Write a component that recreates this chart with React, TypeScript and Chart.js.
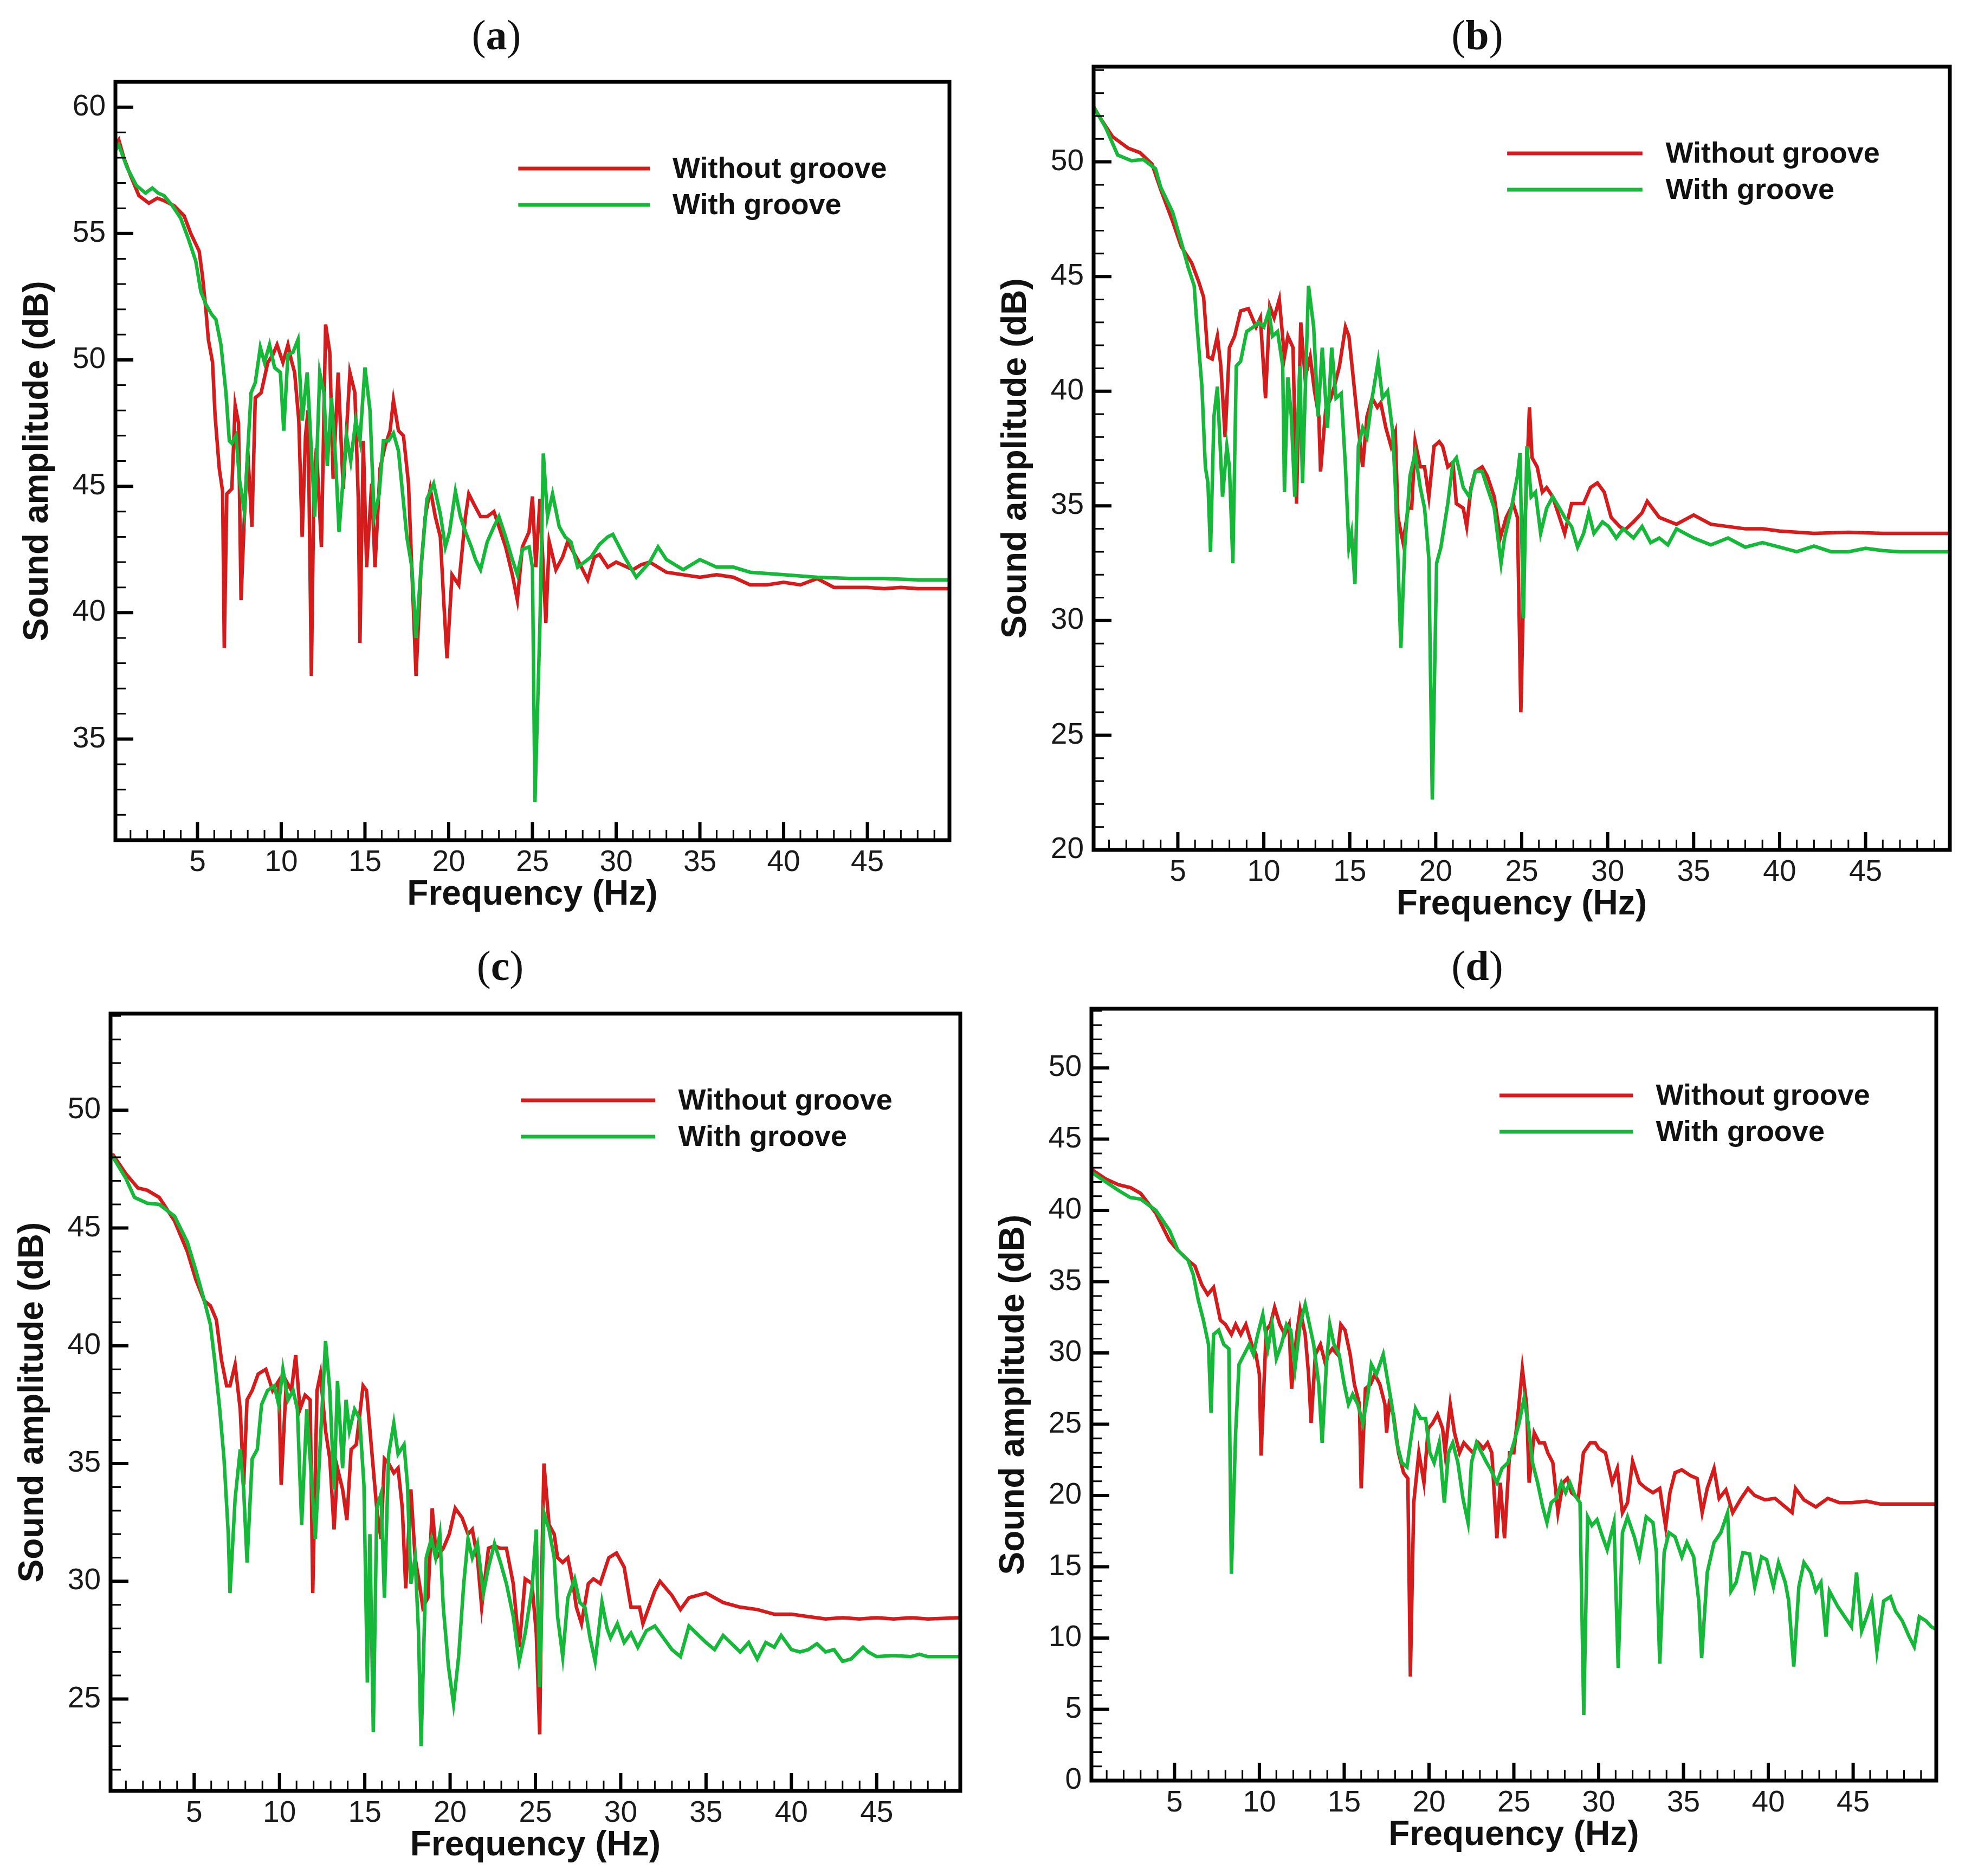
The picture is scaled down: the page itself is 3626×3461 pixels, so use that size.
import { useEffect, useRef } from "react";
import Chart from "chart.js/auto";

Chart.defaults.font.family = '"Liberation Sans", Arial, sans-serif';

const LEGEND_LABELS = ["Without groove", "With groove"];
const RED = "#d41c1c";
const GREEN = "#16b83a";
const X_TICKS = [5, 10, 15, 20, 25, 30, 35, 40, 45];

// (a)
const A_Y_TICKS = [35, 40, 45, 50, 55, 60];
const A_RED_F = [0.1,0.3,0.6,1.0,1.5,2.1,2.6,3.0,3.6,4.2,4.6,5.1,5.3,5.5,5.65,5.9,6.05,6.3,6.5,6.6,6.75,7.05,7.25,7.45,7.6,7.8,8.0,8.25,8.45,8.8,9.2,9.5,9.75,10.1,10.4,10.6,10.8,11.05,11.25,11.45,11.6,11.8,11.95,12.1,12.4,12.65,12.9,13.1,13.4,13.7,14.1,14.4,14.6,14.7,14.9,15.1,15.4,15.6,15.9,16.2,16.5,16.7,17.0,17.3,17.6,17.8,18.05,18.35,18.6,18.9,19.2,19.5,19.7,19.9,20.2,20.6,21.0,21.2,21.5,21.9,22.3,22.7,23.0,23.4,23.8,24.1,24.4,24.8,25.0,25.2,25.45,25.8,26.0,26.4,26.8,27.1,27.7,28.3,28.7,29.0,29.5,30.0,31.0,31.5,32.0,33.0,34.0,35.0,36.0,37.0,38.0,39.0,40.0,41.0,42.0,43.0,44.0,45.0,46.0,47.0,48.0,49.9];
const A_RED_DB = [58.5,58.7,58.0,57.3,56.5,56.2,56.4,56.3,56.1,55.7,55.0,54.3,53.3,52.0,50.8,49.9,47.8,45.7,44.8,38.6,44.7,44.9,48.2,47.5,40.5,43.8,46.4,43.4,48.5,48.7,49.9,50.2,50.6,49.9,50.6,50.0,49.5,47.6,43.0,47.0,48.0,37.5,45.0,46.5,42.6,51.4,50.3,45.3,49.5,44.9,49.5,48.7,44.5,38.8,46.8,41.8,45.1,41.8,45.7,46.6,47.2,48.4,47.2,47.0,45.1,41.7,37.5,41.8,43.8,44.9,43.8,43.0,40.5,38.2,41.5,41.1,43.8,44.7,44.3,43.8,43.8,44.0,43.4,42.6,41.5,40.5,42.6,43.2,44.6,41.8,44.5,39.6,42.8,41.7,42.2,42.8,42.1,41.3,42.2,42.3,41.8,42.0,41.7,41.9,42.0,41.6,41.5,41.4,41.5,41.4,41.1,41.1,41.2,41.1,41.35,41.0,41.0,41.0,40.95,41.0,40.95,40.95];
const A_GREEN_F = [0.1,0.3,0.8,1.35,1.9,2.3,2.65,3.0,3.5,4.0,4.45,4.9,5.2,5.5,5.85,6.1,6.4,6.7,6.9,7.05,7.3,7.5,7.8,8.0,8.2,8.45,8.75,9.0,9.3,9.6,9.95,10.15,10.4,10.7,11.0,11.25,11.55,11.8,12.0,12.3,12.55,12.75,13.0,13.25,13.45,13.9,14.15,14.45,14.7,15.0,15.3,15.55,15.85,16.1,16.4,16.7,17.0,17.25,17.5,17.8,18.05,18.35,18.7,19.1,19.5,19.8,20.05,20.4,20.7,21.0,21.35,21.6,21.9,22.3,22.7,23.0,23.4,23.8,24.1,24.4,24.8,25.0,25.15,25.45,25.65,25.9,26.2,26.6,26.95,27.3,27.7,28.1,28.5,29.0,29.5,29.8,30.5,31.2,32.0,32.5,33.0,34.0,35.0,36.0,37.0,38.0,39.0,40.0,42.0,44.0,46.0,48.0,49.9];
const A_GREEN_DB = [58.3,58.5,57.6,56.9,56.6,56.8,56.6,56.5,56.1,55.6,54.8,53.9,52.7,52.2,51.8,51.6,50.6,48.7,46.8,46.7,47.0,45.3,44.0,46.4,48.7,49.1,50.5,49.9,50.6,49.7,49.5,47.2,50.2,50.3,50.8,47.6,49.5,46.4,43.8,49.5,48.7,45.8,48.5,46.0,43.2,47.0,46.0,47.6,46.8,49.7,48.0,43.8,44.7,46.8,46.8,47.1,46.4,44.7,43.0,41.8,39.0,41.8,44.5,45.1,43.9,42.6,43.2,44.8,43.8,43.2,42.6,42.1,41.7,42.8,43.4,43.8,43.0,42.1,41.5,42.5,42.6,41.8,32.5,39.6,46.3,43.8,44.7,43.4,43.0,42.8,41.8,42.0,42.2,42.7,43.0,43.1,42.2,41.4,42.0,42.6,42.1,41.7,42.1,41.8,41.8,41.6,41.55,41.5,41.4,41.35,41.35,41.3,41.3];

// (b)
const B_Y_TICKS = [20, 25, 30, 35, 40, 45, 50];
const B_RED_F = [0.1,0.5,1.2,2.1,2.8,3.5,4.0,4.7,5.2,5.8,6.2,6.5,6.75,7.0,7.3,7.5,7.75,8.0,8.3,8.65,9.1,9.55,9.8,10.1,10.35,10.6,10.9,11.2,11.4,11.7,11.9,12.15,12.4,12.7,12.95,13.2,13.3,13.6,13.9,14.1,14.4,14.75,14.95,15.2,15.5,15.75,16.0,16.3,16.6,16.8,17.1,17.4,17.65,17.8,18.1,18.4,18.6,18.8,19.1,19.35,19.6,19.9,20.2,20.4,20.7,21.0,21.2,21.6,21.8,22.05,22.3,22.7,23.0,23.4,23.75,24.1,24.5,24.75,24.95,25.2,25.45,25.6,25.9,26.2,26.45,26.8,27.2,27.5,27.9,28.25,28.6,29.0,29.4,29.8,30.2,30.7,31.0,31.5,32.0,32.3,33.0,34.0,35.0,36.0,37.0,38.0,39.0,40.0,42.0,44.0,46.0,48.0,49.9];
const B_RED_DB = [52.4,51.9,51.1,50.6,50.4,49.9,48.8,47.4,46.3,45.6,44.8,44.1,41.5,41.4,42.4,41.1,38.0,41.9,42.4,43.5,43.6,42.8,43.2,39.7,43.7,43.2,44.0,41.5,42.4,41.9,35.1,43.0,40.6,41.5,40.0,38.9,36.5,39.2,39.7,40.2,41.1,42.8,42.4,40.6,38.4,36.7,38.9,39.7,39.3,39.5,38.4,37.6,38.2,34.5,33.4,34.9,34.9,37.8,36.7,36.7,35.4,37.6,37.8,37.6,36.7,36.9,35.1,34.9,34.1,35.8,36.5,36.7,36.3,35.4,33.6,34.5,35.1,34.5,26.0,34.5,39.3,37.1,36.7,35.6,35.8,35.4,34.5,33.8,35.1,35.1,35.1,35.8,36.0,35.6,34.5,34.1,33.95,34.3,34.7,35.2,34.5,34.2,34.6,34.2,34.1,34.0,34.0,33.9,33.8,33.85,33.8,33.8,33.8];
const B_GREEN_F = [0.1,0.8,1.5,2.3,3.0,3.7,4.0,4.7,5.2,5.6,5.95,6.1,6.4,6.6,6.75,6.9,7.1,7.3,7.6,7.85,8.0,8.2,8.4,8.65,9.0,9.4,9.7,10.0,10.3,10.5,10.8,11.1,11.2,11.4,11.6,11.8,12.1,12.25,12.6,12.9,13.15,13.4,13.7,13.95,14.2,14.5,14.75,14.95,15.1,15.3,15.5,15.75,16.0,16.3,16.65,16.9,17.2,17.5,17.65,17.8,17.97,18.2,18.5,18.8,19.1,19.35,19.6,19.8,20.05,20.3,20.7,21.0,21.2,21.6,21.95,22.3,22.7,23.0,23.4,23.8,24.0,24.4,24.75,24.9,25.1,25.3,25.55,25.8,26.1,26.45,26.8,27.2,27.5,27.9,28.25,28.6,28.9,29.2,29.7,30.05,30.5,30.9,31.5,32.0,32.5,33.0,33.5,34.0,35.0,36.0,37.0,38.0,39.0,40.0,41.0,42.0,43.0,44.0,45.0,46.0,47.0,48.0,49.9];
const B_GREEN_DB = [52.4,51.5,50.3,50.05,50.1,49.7,48.9,47.8,46.5,45.4,44.6,43.0,40.2,36.7,36.0,33.0,38.9,40.2,35.4,37.6,36.7,32.5,41.1,41.3,42.6,42.8,43.0,42.8,43.5,42.4,42.6,41.1,35.6,40.6,38.9,35.4,41.1,36.0,44.6,42.8,38.9,41.9,38.4,41.9,39.7,39.9,36.7,33.2,33.8,31.6,37.6,38.4,38.0,39.7,41.3,39.7,40.0,38.2,35.8,32.7,28.8,33.2,36.3,37.3,35.8,34.9,32.7,22.2,32.5,33.2,35.1,36.9,37.1,35.8,35.4,36.5,36.5,35.8,34.9,32.5,33.6,34.9,36.3,37.3,30.1,37.6,35.4,35.6,33.8,34.9,35.4,34.9,34.5,34.1,33.2,33.8,34.7,33.8,34.3,34.1,33.6,34.0,33.6,34.1,33.4,33.6,33.3,34.0,33.6,33.3,33.6,33.2,33.4,33.2,33.0,33.25,33.0,33.0,33.15,33.05,33.0,33.0,33.0];

// (c)
const C_Y_TICKS = [25, 30, 35, 40, 45, 50];
const C_RED_F = [0.1,0.25,1.0,1.7,2.25,2.95,3.85,4.6,5.1,5.6,5.95,6.3,6.6,6.9,7.1,7.4,7.7,7.9,8.1,8.4,8.75,9.2,9.6,9.95,10.1,10.4,10.7,10.95,11.2,11.5,11.8,11.95,12.2,12.4,12.7,12.95,13.2,13.4,13.7,13.95,14.2,14.5,14.9,15.1,15.4,15.7,15.95,16.15,16.4,16.7,16.95,17.2,17.4,17.7,17.95,18.2,18.4,18.7,18.95,19.2,19.6,19.95,20.3,20.7,21.05,21.3,21.6,21.85,22.25,22.6,22.95,23.3,23.7,24.05,24.4,24.8,25.05,25.25,25.4,25.5,25.8,26.1,26.3,26.6,26.9,27.2,27.4,27.7,28.1,28.4,28.8,29.3,29.75,30.2,30.6,31.1,31.3,32.0,32.3,33.0,33.5,34.0,35.0,36.0,37.0,38.0,39.0,40.0,41.0,42.0,43.0,44.0,45.0,46.0,47.0,48.0,49.9];
const C_RED_DB = [48.1,48.1,47.3,46.7,46.6,46.3,45.3,44.0,42.8,41.9,41.7,41.1,39.4,38.3,38.3,39.2,37.3,34.1,37.7,38.1,38.8,39.0,38.1,38.5,34.1,38.5,38.1,39.6,37.3,37.9,37.7,29.5,38.1,38.8,36.4,35.2,32.2,34.8,33.9,32.6,35.6,35.8,38.3,38.1,35.6,33.1,31.8,35.2,35.0,34.6,34.8,33.1,29.7,33.9,31.0,29.9,28.9,29.3,33.1,31.0,31.4,32.0,33.1,32.7,32.0,32.2,31.0,28.9,31.4,31.5,31.4,31.4,29.9,27.2,30.1,29.9,27.8,23.5,31.5,35.0,32.4,32.0,31.0,30.8,31.0,29.9,28.9,28.2,29.9,30.1,29.9,31.0,31.2,30.6,28.9,28.9,28.2,29.6,30.0,29.4,28.8,29.3,29.5,29.1,28.9,28.8,28.6,28.6,28.5,28.4,28.45,28.4,28.45,28.4,28.45,28.4,28.45];
const C_GREEN_F = [0.1,0.25,1.0,1.5,2.25,2.95,3.85,4.6,5.1,5.6,5.95,6.2,6.5,6.75,7.0,7.1,7.4,7.7,7.9,8.1,8.4,8.7,8.95,9.3,9.7,9.95,10.2,10.5,10.8,11.05,11.3,11.6,11.9,12.1,12.4,12.7,12.95,13.2,13.4,13.7,13.9,14.1,14.4,14.7,14.95,15.15,15.3,15.5,15.7,15.95,16.15,16.4,16.7,16.95,17.3,17.5,17.7,17.95,18.15,18.3,18.6,18.9,19.15,19.4,19.6,19.9,20.2,20.5,20.8,21.05,21.3,21.6,21.95,22.25,22.6,22.95,23.3,23.7,24.05,24.4,24.8,25.05,25.25,25.5,25.8,26.1,26.3,26.6,26.9,27.3,27.6,27.9,28.2,28.5,28.9,29.2,29.4,29.8,30.2,30.6,31.0,31.5,32.0,32.5,33.0,33.5,34.0,35.0,35.5,36.0,37.0,37.5,38.0,38.5,39.0,39.4,40.0,40.5,41.0,41.5,42.0,42.5,43.0,43.5,44.2,44.5,45.0,46.0,47.0,47.5,48.0,49.0,49.9];
const C_GREEN_DB = [48.0,48.0,47.1,46.3,46.05,46.0,45.5,44.4,43.2,41.9,40.9,39.4,37.3,35.2,32.0,29.5,33.5,35.6,33.9,30.8,35.2,35.6,37.5,38.1,38.3,37.5,39.0,37.7,38.1,37.3,32.4,37.3,34.1,31.8,36.0,40.2,38.1,33.9,38.5,34.8,37.7,36.4,37.3,36.9,34.1,25.7,32.0,23.6,33.1,33.7,29.3,35.4,36.7,35.4,35.8,34.1,29.9,31.0,27.8,23.0,31.0,31.8,31.0,32.0,28.9,26.4,24.8,26.8,29.9,31.8,31.0,31.6,29.5,30.6,31.6,30.8,29.9,28.5,26.6,27.8,29.7,32.2,25.5,32.9,32.2,31.0,28.5,26.8,29.3,30.1,29.1,28.9,27.6,26.6,29.1,28.0,27.6,28.2,27.4,27.8,27.2,27.9,28.1,27.6,27.1,26.8,28.1,27.4,27.1,27.7,27.0,27.4,26.7,27.4,27.2,27.7,27.1,27.0,27.1,27.35,27.0,27.1,26.6,26.7,27.2,27.0,26.8,26.85,26.8,26.9,26.8,26.8,26.8];

// (d)
const D_Y_TICKS = [0, 5, 10, 15, 20, 25, 30, 35, 40, 45, 50];
const D_RED_F = [0.1,0.2,0.95,1.7,2.4,3.0,3.9,4.7,5.2,5.8,6.2,6.6,6.95,7.3,7.7,8.0,8.35,8.6,8.9,9.2,9.55,9.8,10.0,10.1,10.4,10.65,10.9,11.2,11.5,11.75,11.9,12.2,12.4,12.7,12.9,13.05,13.3,13.6,13.9,14.05,14.3,14.6,14.8,15.05,15.35,15.6,15.9,16.0,16.25,16.55,16.8,17.1,17.4,17.5,17.65,17.9,18.2,18.5,18.75,18.9,19.1,19.4,19.7,19.95,20.2,20.5,20.8,20.95,21.25,21.5,21.8,22.05,22.35,22.6,22.9,23.2,23.45,23.7,24.0,24.2,24.45,24.75,25.0,25.3,25.5,25.75,25.9,26.2,26.5,26.8,27.0,27.3,27.6,27.9,28.15,28.4,28.8,29.1,29.5,29.8,30.0,30.4,30.8,31.1,31.4,31.7,32.0,32.4,32.8,33.2,33.6,33.95,34.2,34.5,34.9,35.4,35.8,36.1,36.4,36.8,37.1,37.5,37.9,38.4,38.8,39.2,39.8,40.4,40.9,41.4,41.6,42.1,42.8,43.5,44.2,44.9,45.8,46.6,47.5,48.4,49.2,49.9];
const D_RED_DB = [42.9,42.8,42.2,41.8,41.6,41.2,39.8,37.9,37.2,36.5,36.1,34.8,34.1,34.6,32.3,32.0,31.3,32.0,31.3,32.0,30.6,29.9,28.5,22.8,31.6,32.0,33.2,32.0,31.3,32.0,27.5,31.3,33.0,31.3,28.5,25.1,29.9,30.6,29.2,29.9,30.3,29.9,32.0,31.6,29.9,27.8,26.4,20.5,27.5,27.8,28.5,27.8,26.4,24.4,26.4,25.7,23.0,21.6,21.2,7.3,19.5,23.0,20.9,24.7,25.05,25.7,24.7,23.0,26.4,24.4,23.0,23.7,23.3,23.0,23.7,23.3,23.7,23.0,17.0,20.9,17.0,23.0,23.0,26.4,28.9,26.4,20.9,24.4,23.7,23.7,23.0,22.3,18.8,20.9,21.2,20.2,19.8,23.0,23.7,23.7,23.3,23.0,20.9,21.9,18.8,19.5,22.4,20.9,20.5,20.2,20.5,17.8,20.2,21.6,21.8,21.4,21.2,18.8,20.5,21.9,19.8,20.4,18.8,19.8,20.5,20.0,19.7,19.8,19.3,18.8,20.5,19.7,19.2,19.8,19.5,19.5,19.6,19.4,19.4,19.4,19.4,19.4];
const D_GREEN_F = [0.1,0.2,0.95,1.7,2.4,3.0,3.9,4.7,5.2,5.8,6.1,6.4,6.7,7.0,7.15,7.3,7.6,7.9,8.2,8.35,8.6,8.8,9.1,9.4,9.65,9.9,10.2,10.5,10.75,11.0,11.3,11.6,11.85,12.1,12.4,12.7,12.95,13.2,13.5,13.7,13.95,14.15,14.4,14.7,15.0,15.25,15.5,15.8,16.1,16.4,16.6,16.9,17.3,17.6,17.8,18.1,18.4,18.7,18.9,19.2,19.5,19.8,20.05,20.3,20.6,20.9,21.15,21.4,21.7,22.0,22.3,22.5,22.8,23.1,23.4,23.6,24.0,24.3,24.65,25.0,25.3,25.6,25.85,26.1,26.4,26.7,26.95,27.2,27.5,27.8,28.05,28.3,28.6,28.9,29.12,29.35,29.6,29.9,30.2,30.5,30.9,31.15,31.4,31.7,32.1,32.4,32.8,33.2,33.4,33.6,33.86,34.14,34.5,34.9,35.2,35.6,35.9,36.07,36.4,36.8,37.2,37.6,37.8,38.1,38.5,38.9,39.2,39.6,39.9,40.3,40.6,41.0,41.2,41.5,41.8,42.1,42.5,42.8,43.1,43.4,43.6,44.1,44.5,44.9,45.2,45.5,45.8,46.1,46.4,46.8,47.2,47.5,47.9,48.3,48.6,48.9,49.3,49.6,49.9];
const D_GREEN_DB = [42.7,42.6,42.0,41.4,40.9,40.8,40.0,38.6,37.2,36.5,35.5,33.7,32.3,30.6,25.8,31.3,31.6,30.6,30.3,14.5,24.4,29.2,29.9,30.6,29.9,31.3,32.7,30.3,32.0,29.6,30.6,32.0,31.6,28.9,32.0,33.4,32.0,30.6,27.8,23.7,29.2,32.0,30.6,29.9,27.8,26.4,27.1,26.4,25.05,27.1,29.2,28.5,29.9,27.8,26.4,23.7,22.3,22.0,23.7,26.1,25.4,25.4,23.0,22.3,23.7,19.5,23.0,23.7,22.3,19.8,18.1,22.3,23.7,23.0,22.3,21.9,20.9,21.9,22.3,23.7,25.05,26.8,25.05,22.3,20.9,19.2,18.1,19.5,19.8,20.9,20.2,20.9,20.0,19.5,4.6,18.5,17.9,18.3,17.2,16.2,18.1,7.9,17.4,18.5,17.1,15.7,18.5,18.1,16.0,8.2,16.0,17.4,17.1,15.7,16.7,15.7,12.6,8.6,14.6,16.7,17.4,18.8,13.3,13.9,16.0,15.9,13.6,15.7,15.5,13.6,15.3,13.9,12.6,8.0,13.6,15.3,14.6,13.3,13.9,10.1,13.3,12.2,11.5,10.8,14.6,10.5,11.5,12.6,9.1,12.6,12.9,11.9,11.2,10.1,9.4,11.5,11.2,10.8,10.6];

// page layout (px): plot frame of each panel, title centre
const Y_AXIS_W = 213;
const PAD_T = 31;
const PAD_R = 48;
const X_AXIS_H = 170;

interface Panel {
  tag: string;
  box: [number, number, number, number];
  titleX: number;
  titleY: number;
  yMin: number;
  yMax: number;
  yTicks: number[];
  red: [number[], number[]];
  green: [number[], number[]];
}

const PANELS: Panel[] = [
  { tag: "a", box: [213, 151, 1752, 1550], titleX: 916, titleY: 65, yMin: 31, yMax: 61, yTicks: A_Y_TICKS, red: [A_RED_F, A_RED_DB], green: [A_GREEN_F, A_GREEN_DB] },
  { tag: "b", box: [2018, 123, 3598, 1568], titleX: 2726, titleY: 65, yMin: 20, yMax: 54.15, yTicks: B_Y_TICKS, red: [B_RED_F, B_RED_DB], green: [B_GREEN_F, B_GREEN_DB] },
  { tag: "c", box: [204, 1870, 1772, 3304], titleX: 923, titleY: 1782, yMin: 21.1, yMax: 54.1, yTicks: C_Y_TICKS, red: [C_RED_F, C_RED_DB], green: [C_GREEN_F, C_GREEN_DB] },
  { tag: "d", box: [2014, 1861, 3573, 3285], titleX: 2726, titleY: 1782, yMin: 0, yMax: 54.15, yTicks: D_Y_TICKS, red: [D_RED_F, D_RED_DB], green: [D_GREEN_F, D_GREEN_DB] },
];

const toPoints = ([f, db]: [number[], number[]]) => f.map((x, i) => ({ x, y: db[i] }));

// frame, inward ticks and the legend, drawn like the original plotting package
const framePlugin = {
  id: "frame",
  afterDraw(chart: any) {
    const { ctx, chartArea: a, scales } = chart;
    const xs = scales.x;
    const ys = scales.y;
    ctx.save();
    ctx.strokeStyle = "#000";
    ctx.lineCap = "butt";

    ctx.lineWidth = 3;
    ctx.beginPath();
    for (let v = Math.ceil(xs.min); v < xs.max; v++) {
      if (X_TICKS.includes(v)) continue;
      const px = xs.getPixelForValue(v);
      ctx.moveTo(px, a.bottom);
      ctx.lineTo(px, a.bottom - 19);
    }
    for (let v = Math.ceil(ys.min); v < ys.max; v++) {
      if (v % 5 === 0) continue;
      const py = ys.getPixelForValue(v);
      ctx.moveTo(a.left, py);
      ctx.lineTo(a.left + 19, py);
    }
    ctx.stroke();

    ctx.lineWidth = 6;
    ctx.beginPath();
    for (const v of X_TICKS) {
      const px = xs.getPixelForValue(v);
      ctx.moveTo(px, a.bottom);
      ctx.lineTo(px, a.bottom - 33);
    }
    for (const t of ys.ticks) {
      const py = ys.getPixelForValue(t.value);
      ctx.moveTo(a.left, py);
      ctx.lineTo(a.left + 33, py);
    }
    ctx.stroke();

    ctx.lineWidth = 7;
    ctx.strokeRect(a.left, a.top, a.right - a.left, a.bottom - a.top);

    // legend
    const w = a.right - a.left;
    const x0 = a.left + 0.483 * w;
    const x1 = a.left + 0.641 * w;
    const tx = a.left + 0.668 * w;
    ctx.font = 'bold 54px "Liberation Sans", Arial, sans-serif';
    ctx.textBaseline = "middle";
    ctx.fillStyle = "#111";
    chart.data.datasets.forEach((ds: any, i: number) => {
      const y = a.top + 160 + i * 67;
      ctx.strokeStyle = ds.borderColor;
      ctx.lineWidth = 7;
      ctx.beginPath();
      ctx.moveTo(x0, y);
      ctx.lineTo(x1, y);
      ctx.stroke();
      ctx.fillText(ds.label, tx, y + 2);
    });
    ctx.restore();
  },
};

function PanelChart({ p }: { p: Panel }) {
  const ref = useRef<HTMLCanvasElement>(null);
  const [l, t, r, b] = p.box;
  const w = r - l + Y_AXIS_W + PAD_R;
  const h = b - t + PAD_T + X_AXIS_H;

  useEffect(() => {
    if (!ref.current) return;
    const chart = new Chart(ref.current, {
      type: "line",
      data: {
        datasets: [
          { label: LEGEND_LABELS[0], data: toPoints(p.red), borderColor: RED, borderWidth: 6.5, pointRadius: 0, tension: 0, order: 1 },
          { label: LEGEND_LABELS[1], data: toPoints(p.green), borderColor: GREEN, borderWidth: 6.5, pointRadius: 0, tension: 0, order: 0 },
        ],
      },
      options: {
        animation: false,
        responsive: false,
        devicePixelRatio: 1,
        layout: { padding: { top: PAD_T, right: PAD_R, left: 0, bottom: 0 } },
        plugins: { legend: { display: false }, tooltip: { enabled: false } },
        scales: {
          x: {
            type: "linear",
            min: 0.1,
            max: 49.9,
            afterBuildTicks: (s: any) => { s.ticks = X_TICKS.map(v => ({ value: v })); },
            afterFit: (s: any) => { s.height = X_AXIS_H; s.paddingLeft = 0; s.paddingRight = 0; },
            grid: { display: false, drawTicks: false },
            border: { display: false },
            ticks: { font: { size: 55 }, color: "#1a1a1a", padding: 9, maxRotation: 0, minRotation: 0, autoSkip: false },
            title: { display: true, text: "Frequency (Hz)", color: "#111", font: { size: 64, weight: "bold" }, padding: { top: 0, bottom: 30 } },
          },
          y: {
            type: "linear",
            min: p.yMin,
            max: p.yMax,
            afterBuildTicks: (s: any) => { s.ticks = p.yTicks.map(v => ({ value: v })); },
            afterFit: (s: any) => { s.width = Y_AXIS_W; s.paddingTop = 0; s.paddingBottom = 0; },
            grid: { display: false, drawTicks: false },
            border: { display: false },
            ticks: { font: { size: 55 }, color: "#1a1a1a", padding: 18, autoSkip: false },
            title: { display: true, text: "Sound amplitude (dB)", color: "#111", font: { size: 64, weight: "bold" }, padding: { top: 32, bottom: 0 } },
          },
        },
      },
      plugins: [framePlugin],
    });
    return () => { chart.destroy(); };
  }, [p]);

  return (
    <>
      <div
        style={{
          position: "absolute", left: p.titleX - 150, top: p.titleY - 50, width: 300, height: 100,
          lineHeight: "100px", textAlign: "center", fontFamily: '"Liberation Serif", "DejaVu Serif", serif', fontSize: 78, color: "#111",
        }}
      >
        (<b>{p.tag}</b>)
      </div>
      <canvas
        ref={ref}
        width={w}
        height={h}
        style={{ position: "absolute", left: l - Y_AXIS_W, top: t - PAD_T, width: w, height: h }}
      />
    </>
  );
}

export default function App() {
  return (
    <div style={{ position: "absolute", left: 0, top: 0, width: 3626, height: 3461, background: "#fff", overflow: "hidden" }}>
      {PANELS.map(p => <PanelChart key={p.tag} p={p} />)}
    </div>
  );
}
